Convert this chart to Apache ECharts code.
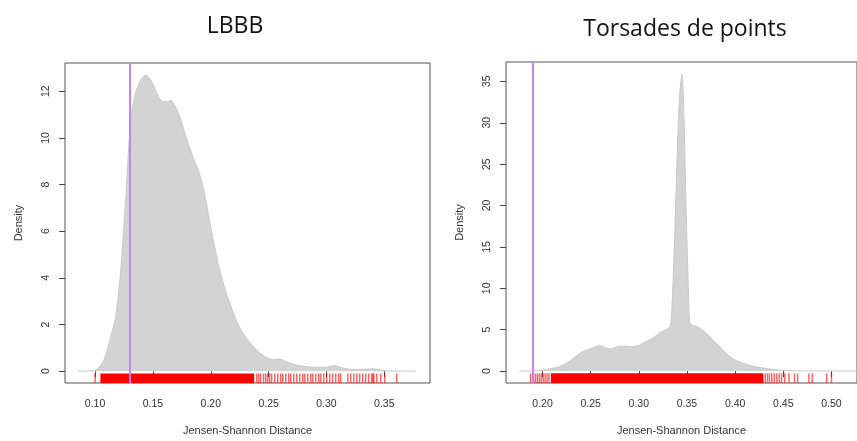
<!DOCTYPE html>
<html>
<head>
<meta charset="utf-8">
<script src="https://cdn.jsdelivr.net/npm/echarts@6/dist/echarts.min.js"></script>
<style>html,body{margin:0;padding:0;background:#fff}#c{width:857px;height:441px}</style>
</head>
<body>
<div id="c"></div>
<script>
// ---- Data ----
const titles = ['LBBB', 'Torsades de points'];
const xName = 'Jensen-Shannon Distance';
const yName = 'Density';

const lbbbX = [0.085,0.095,0.101,0.107,0.112,0.118,0.1225,0.1268,0.131,0.1354,0.1397,0.144,0.1484,0.1527,0.157,0.1614,0.1657,0.170,0.1743,0.1786,0.1844,0.190,0.1945,0.1988,0.2031,0.2074,0.2132,0.219,0.2247,0.2305,0.2362,0.242,0.2478,0.2535,0.2593,0.265,0.2708,0.2765,0.288,0.2996,0.3068,0.314,0.3226,0.3313,0.340,0.3485,0.357,0.377];
const lbbbY = [0,0.01,0.06,0.4,1.2,2.4,4.5,7.65,10.9,12.0,12.5,12.7,12.45,12.0,11.6,11.55,11.6,11.3,10.75,10.05,9.2,8.5,7.65,6.5,5.4,4.4,3.4,2.57,1.9,1.44,1.09,0.8,0.6,0.5,0.52,0.41,0.31,0.24,0.17,0.17,0.24,0.14,0.07,0.08,0.1,0.03,0.01,0];

const tdpX = [0.1756,0.1957,0.2057,0.2157,0.2224,0.2291,0.2358,0.2425,0.2492,0.2559,0.2592,0.2642,0.2692,0.2742,0.2793,0.286,0.2926,0.2993,0.306,0.3127,0.3194,0.3244,0.3294,0.3328,0.3344,0.3368,0.3395,0.3421,0.3448,0.3468,0.3488,0.3512,0.3528,0.3562,0.3612,0.3662,0.3729,0.3796,0.3863,0.393,0.3997,0.4064,0.4131,0.4197,0.4298,0.4398,0.4532,0.4699,0.53];
const tdpY = [0,0.04,0.24,0.48,0.8,1.28,1.88,2.4,2.68,2.96,3.08,2.88,2.68,2.8,3.0,3.0,2.96,3.08,3.48,3.88,4.4,4.8,5.08,5.48,7.7,14.9,24.9,32.9,35.9,30.9,20.9,10.9,5.9,5.5,5.36,4.96,4.28,3.48,2.68,1.88,1.36,1.04,0.76,0.56,0.36,0.2,0.06,0.02,0];

// rug: dense solid stretches and individual ticks
const lbbbRugBands = [[0.1046, 0.2375]];
const lbbbRugTicks = [0.1000,0.2397,0.2414,0.2431,0.2457,0.2475,0.2492,0.2509,0.2526,0.2553,0.2579,0.2605,0.2622,0.2648,0.2674,0.2691,0.2717,0.2743,0.2769,0.2795,0.2812,0.2838,0.2864,0.2881,0.2907,0.2933,0.2950,0.2976,0.3002,0.3028,0.3054,0.3080,0.3106,0.3123,0.3184,0.3210,0.3236,0.3262,0.3287,0.3313,0.3339,0.3365,0.3391,0.3400,0.3409,0.3435,0.3469,0.3504,0.3607];
const tdpRugBands = [[0.2087, 0.4293]];
const tdpRugTicks = [0.1877,0.1907,0.1927,0.1947,0.1967,0.1987,0.2007,0.2027,0.2047,0.2067,0.4313,0.4336,0.4356,0.4380,0.4405,0.4432,0.4458,0.4482,0.4515,0.4559,0.4616,0.4649,0.4766,0.4800,0.4950,0.5000];

const vLines = [0.1323, 0.1875];

const lbbbXTicks = [0.10,0.15,0.20,0.25,0.30,0.35];
const lbbbYTicks = [0,2,4,6,8,10,12];
const tdpXTicks = [0.20,0.25,0.30,0.35,0.40,0.45,0.50];
const tdpYTicks = [0,5,10,15,20,25,30,35];

const lbbbXRange = [0.074, 0.3895], lbbbYRange = [-0.508, 13.21];
const tdpXRange = [0.1621, 0.5265], tdpYRange = [-1.44, 37.34];

// ---- Chart ----
const zip = (a, b) => a.map((v, i) => [v, b[i]]);
const labelFont = {fontFamily: 'Liberation Sans, Arial', fontSize: 10.5, color: '#333'};

function xAxis(idx, range, ticks) {
  return {
    type: 'value', gridIndex: idx, min: range[0], max: range[1],
    name: xName, nameLocation: 'middle', nameGap: 42,
    nameTextStyle: Object.assign({}, labelFont, {fontSize: 11}),
    axisLine: {show: false}, splitLine: {show: false},
    axisTick: {show: true, length: 6, customValues: ticks, lineStyle: {color: '#444'}},
    axisLabel: Object.assign({customValues: ticks, margin: 16, formatter: v => v.toFixed(2)}, labelFont)
  };
}
function yAxis(idx, range, ticks) {
  return {
    type: 'value', gridIndex: idx, min: range[0], max: range[1],
    name: yName, nameLocation: 'middle', nameGap: 41, nameRotate: 90,
    nameTextStyle: Object.assign({}, labelFont, {fontSize: 11}),
    axisLine: {show: false}, splitLine: {show: false},
    axisTick: {show: true, length: 6, customValues: ticks, lineStyle: {color: '#444'}},
    axisLabel: Object.assign({customValues: ticks, margin: 13, rotate: 90}, labelFont)
  };
}
function densitySeries(idx, xs, ys, vx) {
  return {
    type: 'line', xAxisIndex: idx, yAxisIndex: idx, data: zip(xs, ys),
    symbol: 'none', smooth: 0.25, z: 2,
    lineStyle: {color: '#c9c9c9', width: 1},
    areaStyle: {color: '#d3d3d3', opacity: 1, origin: 0},
    markLine: {
      silent: true, symbol: 'none', label: {show: false},
      lineStyle: {color: '#c485f2', width: 2, type: 'solid'},
      data: [{xAxis: vx}]
    }
  };
}
function rugTickSeries(idx, ticks) {
  return {
    type: 'custom', xAxisIndex: idx, yAxisIndex: idx, z: 3, silent: true,
    data: ticks.map(v => [v]),
    renderItem: function (params, api) {
      const cs = params.coordSys;
      const px = api.coord([api.value(0), 0])[0];
      const bottom = cs.y + cs.height, h = cs.height * 0.03;
      return {type: 'line', shape: {x1: px, y1: bottom, x2: px, y2: bottom - h},
        style: {stroke: 'rgba(255,0,0,0.6)', lineWidth: 1.5}};
    }
  };
}
function rugBandSeries(idx, bands) {
  return {
    type: 'custom', xAxisIndex: idx, yAxisIndex: idx, z: 3, silent: true,
    data: bands,
    renderItem: function (params, api) {
      const cs = params.coordSys;
      const a = api.coord([api.value(0), 0])[0];
      const b = api.coord([api.value(1), 0])[0];
      const bottom = cs.y + cs.height, h = cs.height * 0.03;
      return {type: 'rect', shape: {x: a, y: bottom - h, width: b - a, height: h},
        style: {fill: '#ff0000'}};
    }
  };
}

const chart = echarts.init(document.getElementById('c'), null, {renderer: 'canvas'});
chart.setOption({
  animation: false,
  backgroundColor: '#ffffff',
  title: [
    {text: titles[0], left: 230, top: 10, textAlign: 'center',
      textStyle: {fontFamily: 'Open Sans', fontSize: 23, fontWeight: 'normal', color: '#111'}},
    {text: titles[1], left: 680, top: 13, textAlign: 'center',
      textStyle: {fontFamily: 'Open Sans', fontSize: 23, fontWeight: 'normal', color: '#111'}}
  ],
  grid: [
    {left: 65, top: 63, width: 365, height: 324, show: true, borderColor: '#555', borderWidth: 1, backgroundColor: 'transparent'},
    {left: 506, top: 62, width: 364, height: 325, show: true, borderColor: '#555', borderWidth: 1, backgroundColor: 'transparent'}
  ],
  xAxis: [xAxis(0, lbbbXRange, lbbbXTicks), xAxis(1, tdpXRange, tdpXTicks)],
  yAxis: [yAxis(0, lbbbYRange, lbbbYTicks), yAxis(1, tdpYRange, tdpYTicks)],
  series: [
    densitySeries(0, lbbbX, lbbbY, vLines[0]),
    densitySeries(1, tdpX, tdpY, vLines[1]),
    rugBandSeries(0, lbbbRugBands), rugTickSeries(0, lbbbRugTicks),
    rugBandSeries(1, tdpRugBands), rugTickSeries(1, tdpRugTicks)
  ]
});
</script>
</body>
</html>
